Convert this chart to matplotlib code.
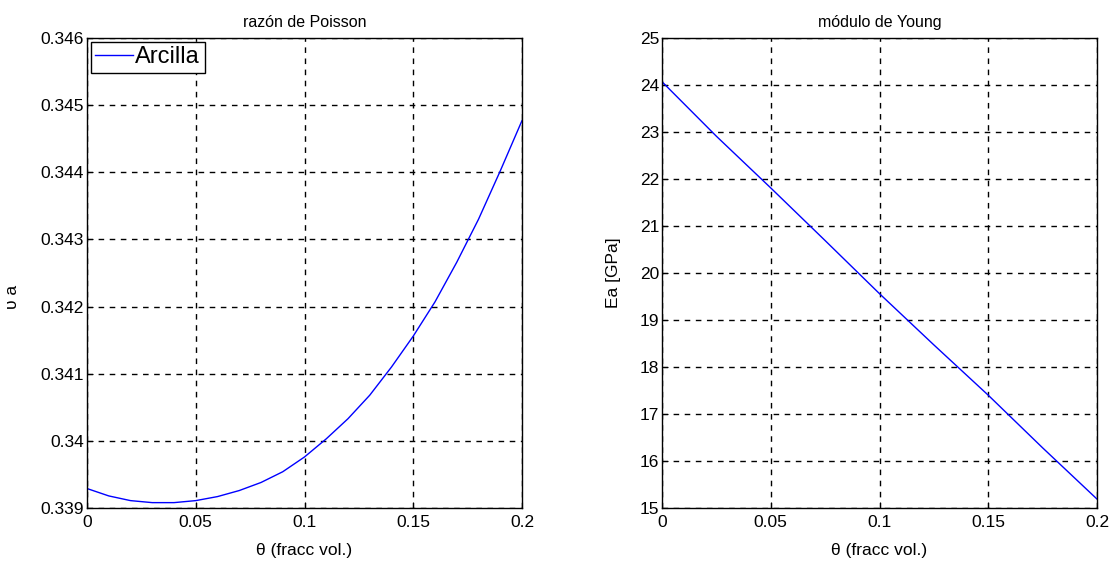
import numpy as np
import matplotlib
matplotlib.use('Agg')
import matplotlib.pyplot as plt

plt.rcParams['font.family'] = ['Liberation Sans', 'DejaVu Sans']

# razon de Poisson (arcilla)
theta_p = [0, 0.01, 0.02, 0.03, 0.04, 0.05, 0.06, 0.07, 0.08, 0.09, 0.10,
           0.11, 0.12, 0.13, 0.14, 0.15, 0.16, 0.17, 0.18, 0.19, 0.20]
nu_a = [0.33929, 0.33918, 0.33911, 0.33908, 0.33908, 0.33911, 0.33917,
        0.33926, 0.33938, 0.33954, 0.33976, 0.34003, 0.34033, 0.34068,
        0.34110, 0.34156, 0.34207, 0.34266, 0.34330, 0.34402, 0.34477]

# modulo de Young
theta_e = [0, 0.025, 0.05, 0.075, 0.1, 0.125, 0.15, 0.175, 0.2]
E_a = [24.07, 22.91, 21.81, 20.69, 19.56, 18.47, 17.40, 16.28, 15.19]

xticks = [0, 0.05, 0.1, 0.15, 0.2]
xtick_labels = ['0', '0.05', '0.1', '0.15', '0.2']
nu_ticks = [0.339, 0.340, 0.341, 0.342, 0.343, 0.344, 0.345, 0.346]
nu_tick_labels = ['0.339', '0.34', '0.341', '0.342', '0.343', '0.344', '0.345', '0.346']


def style_axes(ax):
  ax.grid(True, color='black', linestyle=(0, (4, 4)), linewidth=1)
  ax.tick_params(direction='in', labelsize=12.5, length=4, colors='black')
  for s in ax.spines.values():
    s.set_color('black')
    s.set_linewidth(1)
  ax.set_xlim(0, 0.2)
  ax.set_xticks(xticks)
  ax.set_xticklabels(xtick_labels)
  ax.tick_params(axis='x', pad=5)
  ax.tick_params(axis='y', pad=2)


fig = plt.figure(figsize=(11.18, 5.63), dpi=100)
ax1 = fig.add_axes([87/1118, 1-508/563, 435/1118, 470/563])
ax2 = fig.add_axes([662/1118, 1-508/563, 435/1118, 470/563])

ax1.plot(theta_p, nu_a, color='blue', linewidth=1, label='Arcilla')
style_axes(ax1)
ax1.set_ylim(0.339, 0.346)
ax1.set_yticks(nu_ticks)
ax1.set_yticklabels(nu_tick_labels)
ax1.set_title('razón de Poisson', fontsize=11.5, pad=8)
ax1.set_xlabel('θ (fracc vol.)', fontsize=12.5)
ax1.xaxis.set_label_coords(0.5, -0.074)
ax1.set_ylabel('υ a', fontsize=12.5)
ax1.yaxis.set_label_coords(-0.155, 0.45)
leg = ax1.legend(loc='upper left', fontsize=17, handlelength=1.6, handletextpad=0.1,
                 borderaxespad=0.15, borderpad=0.2, fancybox=False, framealpha=1)
leg.get_frame().set_edgecolor('black')
leg.get_frame().set_linewidth(1)

ax2.plot(theta_e, E_a, color='blue', linewidth=1)
style_axes(ax2)
ax2.set_ylim(15, 25)
ax2.set_yticks(range(15, 26))
ax2.set_title('módulo de Young', fontsize=11.5, pad=8)
ax2.set_xlabel('θ (fracc vol.)', fontsize=12.5)
ax2.xaxis.set_label_coords(0.5, -0.074)
ax2.set_ylabel('Ea [GPa]', fontsize=12.5)
ax2.yaxis.set_label_coords(-0.095, 0.5)

fig.savefig('out.png', dpi=100)
